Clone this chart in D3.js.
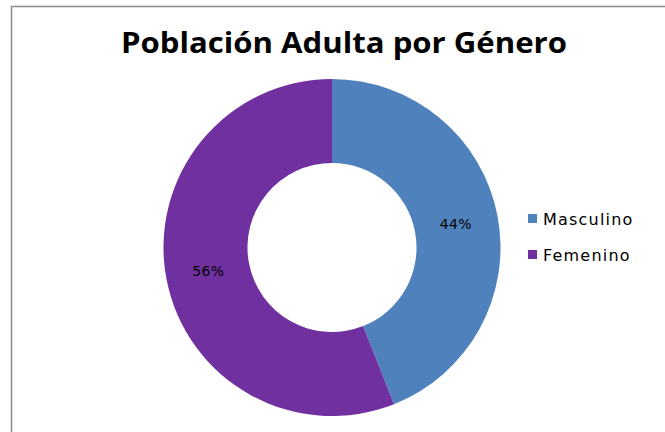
<!DOCTYPE html>
<html>
<head>
<meta charset="utf-8">
<script src="https://cdn.jsdelivr.net/npm/d3@7"></script>
<style>
  body { margin: 0; background: #fff; }
  svg { display: block; }
</style>
</head>
<body>
<div id="chart"></div>
<script>
// data
var categories = ["Masculino", "Femenino"];
var values = [44, 56];
var colors = ["#4F81BD", "#7030A0"];

var svgWidth = 665;
var svgHeight = 432;

var svg = d3.select("#chart")
  .append("svg")
  .attr("width", svgWidth)
  .attr("height", svgHeight);

// chart border (right and bottom run off the picture)
svg.append("rect")
  .attr("x", 11.5)
  .attr("y", 6.5)
  .attr("width", 700)
  .attr("height", 500)
  .attr("fill", "none")
  .attr("stroke", "#8c8c8c")
  .attr("stroke-width", 1.5);

// title
svg.append("text")
  .attr("x", 344)
  .attr("y", 53)
  .attr("text-anchor", "middle")
  .attr("font-family", "'Open Sans', Lato, sans-serif")
  .attr("font-weight", "bold")
  .attr("font-size", 28)
  .attr("textLength", 446)
  .attr("lengthAdjust", "spacingAndGlyphs")
  .attr("fill", "#000")
  .text("Población Adulta por Género");

var cx = 332, cy = 247.5;
var outerR = 168.5, innerR = 84.5;

var pie = d3.pie().sort(null).value(d => d);
var arcs = pie(values);

var arc = d3.arc().innerRadius(innerR).outerRadius(outerR);
var labelArc = d3.arc().innerRadius(126).outerRadius(126);

var chartGroup = svg.append("g")
  .attr("transform", `translate(${cx}, ${cy})`);

chartGroup.selectAll("path")
  .data(arcs)
  .enter()
  .append("path")
  .attr("d", arc)
  .attr("fill", (d, i) => colors[i]);

// percentage labels
var total = d3.sum(values);
chartGroup.selectAll(".pct")
  .data(arcs)
  .enter()
  .append("text")
  .attr("class", "pct")
  .attr("transform", d => `translate(${labelArc.centroid(d)})`)
  .attr("dy", "0.35em")
  .attr("text-anchor", "middle")
  .attr("font-family", "'DejaVu Sans', Verdana, sans-serif")
  .attr("font-size", 14)
  .attr("letter-spacing", 0.3)
  .attr("fill", "#000")
  .text(d => Math.round(d.data / total * 100) + "%");

// legend
var legend = svg.append("g")
  .attr("transform", "translate(528, 219)");

var item = legend.selectAll("g")
  .data(categories)
  .enter()
  .append("g")
  .attr("transform", (d, i) => `translate(0, ${i * 36})`);

item.append("rect")
  .attr("x", 0)
  .attr("y", -5)
  .attr("width", 9)
  .attr("height", 9)
  .attr("fill", (d, i) => colors[i]);

item.append("text")
  .attr("x", 15)
  .attr("dy", "0.35em")
  .attr("font-family", "'DejaVu Sans', Verdana, sans-serif")
  .attr("font-size", 16)
  .attr("letter-spacing", 1.2)
  .attr("fill", "#000")
  .text(d => d);
</script>
</body>
</html>
